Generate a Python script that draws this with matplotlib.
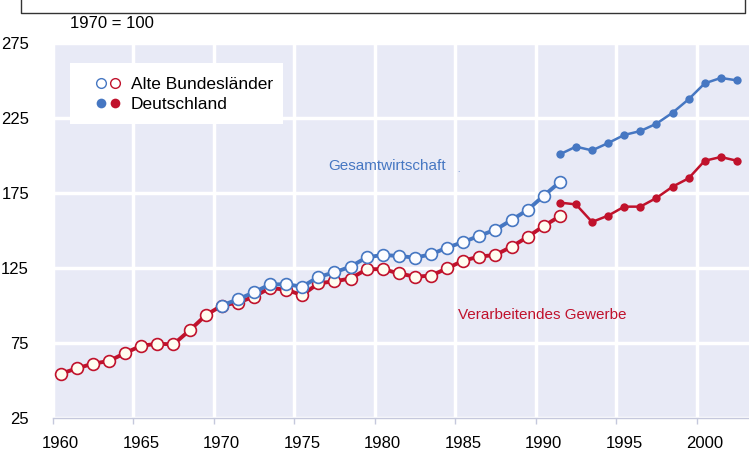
#!/usr/bin/env python3
import matplotlib

matplotlib.use("Agg")
import matplotlib.pyplot as plt
from matplotlib.lines import Line2D
from matplotlib.patches import Rectangle
from matplotlib.legend_handler import HandlerTuple

plt.rcParams["font.family"] = ["Liberation Sans", "DejaVu Sans"]

BLUE = "#4677c2"
RED = "#c0122c"
BG = "#e8eaf6"

# Alte Bundeslaender, 1960-1991 (1970 = 100)
years_old_mfg = list(range(1960, 1992))
mfg_old = [54.5, 58.1, 61.2, 63.0, 68.3, 73.2, 74.5, 74.1, 83.4, 93.4,
           100.0, 101.9, 105.9, 111.7, 110.5, 106.9, 114.8, 116.1, 118.0, 124.1,
           124.3, 121.4, 119.2, 119.9, 124.8, 129.9, 132.6, 133.7, 139.2, 145.7,
           153.0, 159.5]
years_old_tot = list(range(1970, 1992))
tot_old = [100.0, 104.1, 108.8, 114.1, 114.1, 112.6, 119.0, 122.1, 125.9, 132.1,
           133.7, 133.0, 131.9, 134.1, 138.6, 142.3, 146.5, 150.5, 157.0, 163.7,
           173.2, 182.3]

# Deutschland, 1991-2002
years_de = list(range(1991, 2003))
tot_de = [200.8, 205.9, 203.4, 208.3, 213.7, 216.3, 221.2, 228.5, 237.5, 248.1,
          251.7, 250.1]
mfg_de = [168.6, 167.4, 155.7, 159.9, 165.9, 165.9, 171.7, 179.2, 184.8, 196.5,
          199.0, 196.5]

label_years = [1960, 1965, 1970, 1975, 1980, 1985, 1990, 1995, 2000]
y_ticks = [25, 75, 125, 175, 225, 275]


def main() -> None:
    fig = plt.figure(figsize=(7.49, 4.5), dpi=100)
    ax = fig.add_axes([52.7 / 749, 1 - 418 / 450, 696.3 / 749, 375 / 450])
    ax.set_facecolor(BG)

    ax.plot(years_old_mfg, mfg_old, color=RED, linewidth=2.8, marker="o",
            markersize=8.5, markerfacecolor="#fffdf0", markeredgecolor=RED,
            markeredgewidth=1.2, zorder=3)
    ax.plot(years_old_tot, tot_old, color=BLUE, linewidth=2.8, marker="o",
            markersize=8.5, markerfacecolor="#fbfcff", markeredgecolor=BLUE,
            markeredgewidth=1.2, zorder=4)
    ax.plot(years_de, mfg_de, color=RED, linewidth=1.8, marker="o",
            markersize=6, markeredgewidth=0, zorder=3)
    ax.plot(years_de, tot_de, color=BLUE, linewidth=1.8, marker="o",
            markersize=6, markeredgewidth=0, zorder=4)

    ax.set_xlim(1959.5, 2002.75)
    ax.set_ylim(25, 275)

    grid_x = [y - 0.5 for y in label_years]
    ax.set_xticks(grid_x)
    ax.set_xticklabels([])
    ax.set_xticks(label_years, minor=True)
    ax.set_xticklabels([str(y) for y in label_years], minor=True)
    ax.tick_params(axis="x", which="major", length=4, width=1, color="#c5c8dc",
                   direction="out")
    ax.tick_params(axis="x", which="minor", length=0, pad=13, labelsize=12)
    ax.set_yticks(y_ticks)
    ax.tick_params(axis="y", length=0, pad=17, labelsize=12)
    ax.grid(True, which="major", color="white", linewidth=2.5)
    ax.set_axisbelow(True)
    for side in ("top", "right", "left"):
        ax.spines[side].set_visible(False)
    ax.spines["bottom"].set_color("#c5c8dc")
    ax.spines["bottom"].set_linewidth(1.0)

    ax.text(1976.6, 193, "Gesamtwirtschaft", color=BLUE, fontsize=11,
            va="center", ha="left")
    ax.text(1984.6, 190, ".", color=BLUE, fontsize=6, va="center", ha="left")
    ax.text(1984.67, 93.7, "Verarbeitendes Gewerbe", color=RED, fontsize=11,
            va="center", ha="left")

    fig.text(70 / 749, 1 - 23 / 450, "1970 = 100", fontsize=12, va="center",
             ha="left")
    # frame remnant at the top
    fig.add_artist(Line2D([21 / 749, 21 / 749, 745 / 749, 745 / 749],
                          [1.0, 1 - 13 / 450, 1 - 13 / 450, 1.0],
                          transform=fig.transFigure, color="#333333",
                          linewidth=1.0))

    # legend box
    ax.add_patch(Rectangle((70 / 749, 1 - 124 / 450), 213 / 749, 61 / 450,
                           transform=fig.transFigure, facecolor="white",
                           edgecolor="none", zorder=9, clip_on=False))
    kw = dict(linestyle="none", marker="o", markersize=7)
    open_b = Line2D([], [], markerfacecolor="white", markeredgecolor=BLUE,
                    markeredgewidth=1.0, **kw)
    open_r = Line2D([], [], markerfacecolor="white", markeredgecolor=RED,
                    markeredgewidth=1.0, **kw)
    full_b = Line2D([], [], color=BLUE, markeredgewidth=0, **kw)
    full_r = Line2D([], [], color=RED, markeredgewidth=0, **kw)
    leg = ax.legend([(open_b, open_r), (full_b, full_r)],
                    ["Alte Bundesländer", "Deutschland"],
                    handler_map={tuple: HandlerTuple(ndivide=None, pad=0.1)},
                    loc="upper left", bbox_to_anchor=(95 / 749, 1 - 77 / 450),
                    bbox_transform=fig.transFigure, fontsize=12.5,
                    frameon=False, borderpad=0, handlelength=1.5,
                    handletextpad=0.55, labelspacing=0.25, borderaxespad=0)
    leg.set_zorder(10)

    fig.savefig("out.png", dpi=100)
    plt.close(fig)


if __name__ == "__main__":
    main()
